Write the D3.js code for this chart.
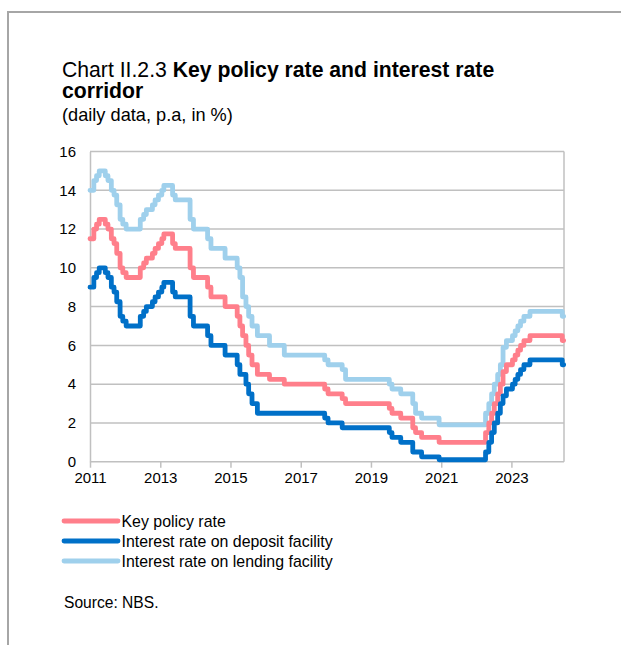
<!DOCTYPE html>
<html>
<head>
<meta charset="utf-8">
<script src="https://cdn.jsdelivr.net/npm/d3@7/dist/d3.min.js"></script>
<style>
  html, body { margin: 0; padding: 0; background: #fff; }
  svg { display: block; font-family: "Liberation Sans", Arial, sans-serif; }
</style>
</head>
<body>
<svg id="chart" width="621" height="645"></svg>
<script>
// ---- data (dates of rate changes, values in %) ----
const changeDates = [
  "2011-01-01","2011-02-10","2011-03-10","2011-04-07","2011-06-09","2011-07-07","2011-08-11","2011-09-08",
  "2011-10-06","2011-11-10","2011-12-08","2012-01-12","2012-06-07","2012-07-12","2012-08-09","2012-10-11",
  "2012-11-08","2012-12-13","2013-01-17","2013-02-07","2013-05-09","2013-06-06","2013-11-07","2013-12-12",
  "2014-05-08","2014-06-12","2014-11-06","2015-03-12","2015-04-09","2015-05-07","2015-06-11","2015-07-09",
  "2015-08-13","2015-10-08","2016-02-11","2016-07-14","2017-09-07","2017-10-12","2018-03-08","2018-04-12",
  "2019-07-11","2019-08-08","2019-11-07","2020-03-11","2020-04-09","2020-06-11","2020-12-10","2022-04-07",
  "2022-05-11","2022-06-09","2022-07-07","2022-08-11","2022-09-08","2022-10-06","2022-11-10","2023-01-12",
  "2023-02-09","2023-03-09","2023-04-06","2023-05-11","2023-07-13","2024-06-13","2024-06-28"
];
const keyPolicyRate = [
  11.5,12.0,12.25,12.5,12.25,12.0,11.5,11.25,
  10.75,10.0,9.75,9.5,10.0,10.25,10.5,10.75,
  11.0,11.25,11.5,11.75,11.25,11.0,10.0,9.5,
  9.0,8.5,8.0,7.5,7.0,6.5,6.0,5.5,
  5.0,4.5,4.25,4.0,3.75,3.5,3.25,3.0,
  2.75,2.5,2.25,1.75,1.5,1.25,1.0,1.5,
  2.0,2.5,3.0,3.5,4.0,4.65,5.0,5.25,
  5.5,5.75,6.0,6.25,6.5,6.25,6.25
];
const depositRate = [
  9.0,9.5,9.75,10.0,9.75,9.5,9.0,8.75,
  8.25,7.5,7.25,7.0,7.5,7.75,8.0,8.25,
  8.5,8.75,9.0,9.25,8.75,8.5,7.5,7.0,
  6.5,6.0,5.5,5.0,4.5,4.5,4.0,3.5,
  3.0,2.5,2.5,2.5,2.25,2.0,1.75,1.75,
  1.5,1.25,1.0,0.5,0.5,0.25,0.1,0.5,
  1.0,1.5,2.0,2.5,3.0,3.4,3.75,4.0,
  4.25,4.5,4.75,5.0,5.25,5.0,5.0
];
const lendingRate = [
  14.0,14.5,14.75,15.0,14.75,14.5,14.0,13.75,
  13.25,12.5,12.25,12.0,12.5,12.75,13.0,13.25,
  13.5,13.75,14.0,14.25,13.75,13.5,12.5,12.0,
  11.5,11.0,10.5,10.0,9.5,8.5,8.0,7.5,
  7.0,6.5,6.0,5.5,5.25,5.0,4.75,4.25,
  4.0,3.75,3.5,3.0,2.5,2.25,1.9,2.5,
  3.0,3.5,4.0,4.5,5.0,5.9,6.25,6.5,
  6.75,7.0,7.25,7.5,7.75,7.5,7.5
];
const seriesNames = ["Key policy rate","Interest rate on deposit facility","Interest rate on lending facility"];
const seriesColors = ["#ff7f8b","#0070c8","#9fd0ec"];
const yTicks = [0,2,4,6,8,10,12,14,16];
const xTickYears = [2011,2013,2015,2017,2019,2021,2023];

// ---- layout ----
const svg = d3.select("#chart");
const plot = {left: 90, right: 564, top: 151.5, bottom: 461.7};
const parse = d3.timeParse("%Y-%m-%d");
const dates = changeDates.map(parse);

const x = d3.scaleTime()
  .domain([new Date(2011,0,1), new Date(2024,6,1)])
  .range([plot.left, plot.right]);
const y = d3.scaleLinear().domain([0,16]).range([plot.bottom, plot.top]);

// outer frame
svg.append("path")
  .attr("d", "M8,645 L8,12 L621,12")
  .attr("fill","none").attr("stroke","#a6a6a6").attr("stroke-width",2);

// title
const title = svg.append("text").attr("x",62).attr("y",77)
  .attr("font-size","21.2px").attr("fill","#000");
title.append("tspan").text("Chart II.2.3 ");
title.append("tspan").attr("font-weight","bold").text("Key policy rate and interest rate");
svg.append("text").attr("x",62).attr("y",98).attr("font-size","21.2px")
  .attr("font-weight","bold").text("corridor");
svg.append("text").attr("x",62).attr("y",121).attr("font-size","18.2px")
  .text("(daily data, p.a, in %)");

// gridlines
svg.append("g").selectAll("line").data(yTicks.filter(d=>d>0)).join("line")
  .attr("x1",plot.left).attr("x2",plot.right)
  .attr("y1",d=>y(d)).attr("y2",d=>y(d))
  .attr("stroke","#c0c0c0").attr("stroke-width",1.5);
// right border
svg.append("line").attr("x1",plot.right).attr("x2",plot.right)
  .attr("y1",plot.top).attr("y2",plot.bottom)
  .attr("stroke","#c0c0c0").attr("stroke-width",1.5);

// y axis
const yAxis = d3.axisLeft(y).tickValues(yTicks).tickSize(0).tickPadding(14);
const gy = svg.append("g").attr("transform",`translate(${plot.left},0)`).call(yAxis);
gy.select(".domain").attr("stroke","#c0c0c0").attr("stroke-width",1.5);
gy.selectAll("text").attr("font-size","15px").attr("fill","#000")
  .attr("font-family","Liberation Sans, Arial, sans-serif");

// x axis
const xAxis = d3.axisBottom(x)
  .tickValues(xTickYears.map(yr=>new Date(yr,0,1)))
  .tickFormat(d3.timeFormat("%Y")).tickSize(6).tickPadding(5);
const gx = svg.append("g").attr("transform",`translate(0,${plot.bottom})`).call(xAxis);
gx.select(".domain").attr("stroke","#c0c0c0").attr("stroke-width",1.5)
  .attr("d",`M${plot.left},0H${plot.right}`);
gx.selectAll(".tick line").attr("stroke","#c0c0c0").attr("stroke-width",1.5);
gx.selectAll("text").attr("font-size","15px").attr("fill","#000")
  .attr("font-family","Liberation Sans, Arial, sans-serif");

// lines
const allSeries = [keyPolicyRate, depositRate, lendingRate];
const line = d3.line().x(d=>x(d[0])).y(d=>y(d[1])).curve(d3.curveStepAfter);
const drawOrder = [2,0,1];
drawOrder.forEach(i => {
  const pts = dates.map((d,j)=>[d, allSeries[i][j]]);
  svg.append("path").datum(pts)
    .attr("d", line)
    .attr("fill","none")
    .attr("stroke", seriesColors[i])
    .attr("stroke-width",4.8)
    .attr("stroke-linejoin","round")
    .attr("stroke-linecap","round");
});

// legend
const legendY = [521, 541, 561];
seriesNames.forEach((name,i) => {
  svg.append("line").attr("x1",64).attr("x2",118)
    .attr("y1",legendY[i]).attr("y2",legendY[i])
    .attr("stroke",seriesColors[i]).attr("stroke-width",4.8)
    .attr("stroke-linecap","round");
  svg.append("text").attr("x",121.5).attr("y",legendY[i]+5.5)
    .attr("font-size","15.9px").attr("fill","#000").text(name);
});

// source
svg.append("text").attr("x",64).attr("y",608).attr("font-size","15.6px")
  .attr("fill","#000").text("Source: NBS.");
</script>
</body>
</html>
